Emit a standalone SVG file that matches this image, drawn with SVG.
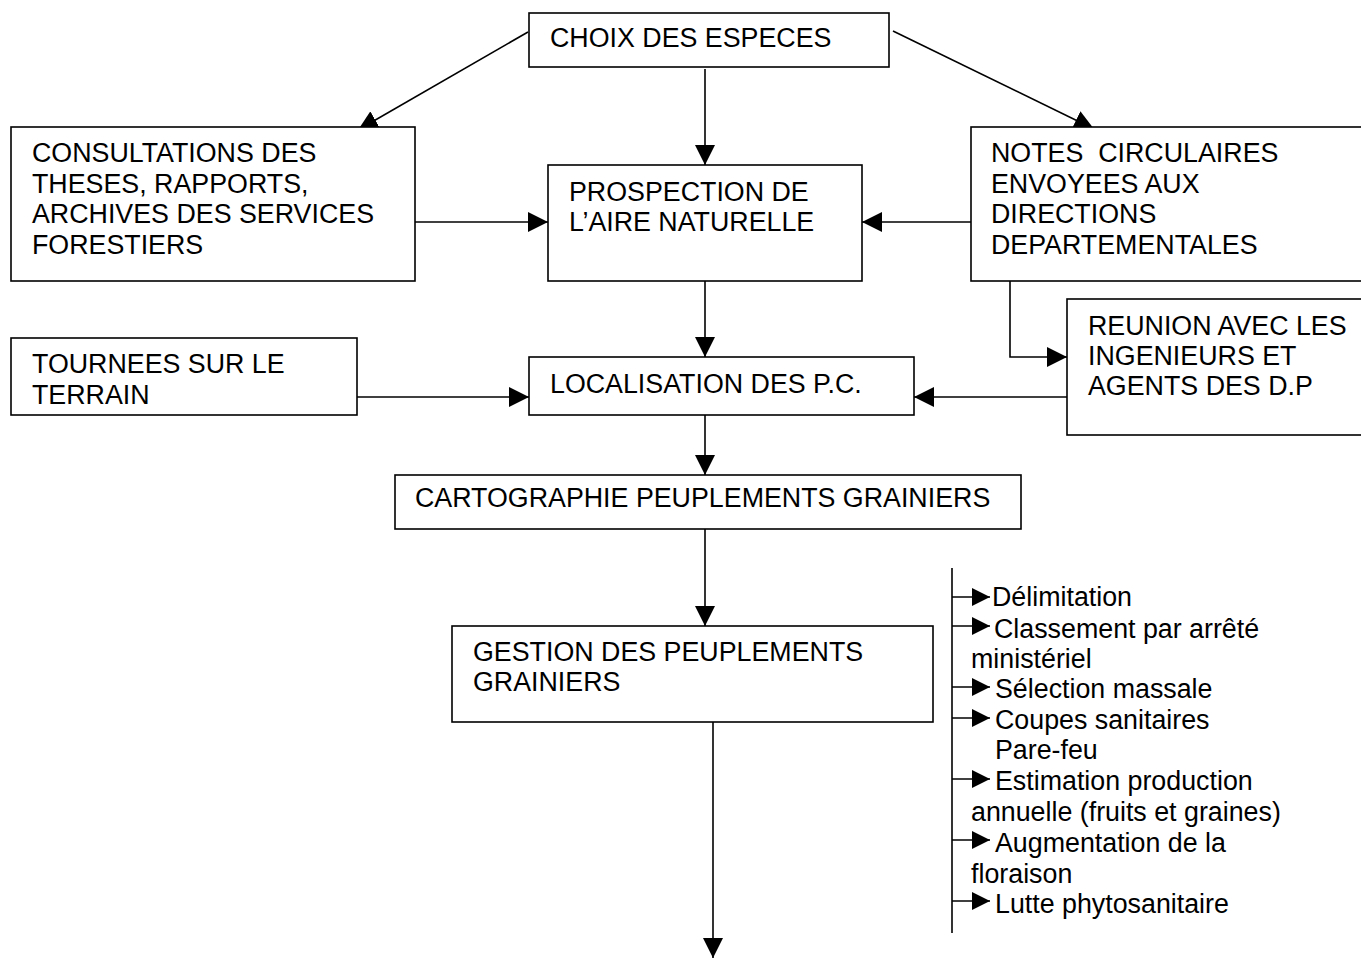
<svg xmlns="http://www.w3.org/2000/svg" width="1361" height="958" viewBox="0 0 1361 958">
<style>
  .box { fill: #ffffff; stroke: #000000; stroke-width: 1.6; }
  .con { fill: none; stroke: #000000; stroke-width: 1.6; }
  .arr { marker-end: url(#ah); }
  .sarr { marker-end: url(#sh); }
  text { font-family: "Liberation Sans", Arial, sans-serif; font-size: 26.8px; fill: #000000; }
</style>
<defs>
  <marker id="ah" markerUnits="userSpaceOnUse" markerWidth="20" markerHeight="20" refX="20" refY="10" orient="auto" viewBox="0 0 20 20">
    <path d="M0,0 L20,10 L0,20 Z" fill="#000000"/>
  </marker>
  <marker id="sh" markerUnits="userSpaceOnUse" markerWidth="18" markerHeight="18" refX="18" refY="9" orient="auto" viewBox="0 0 18 18">
    <path d="M0,0 L18,9 L0,18 Z" fill="#000000"/>
  </marker>
</defs>

<g id="connectors">
  <line class="con arr" x1="528" y1="32" x2="358" y2="130"/>
  <line class="con arr" x1="893" y1="31" x2="1094" y2="129"/>
  <line class="con arr" x1="705" y1="69" x2="705" y2="165"/>
  <line class="con arr" x1="415" y1="222" x2="548" y2="222"/>
  <line class="con arr" x1="971" y1="222" x2="862" y2="222"/>
  <line class="con arr" x1="705" y1="281" x2="705" y2="357"/>
  <polyline class="con arr" points="1010,281 1010,357 1067,357"/>
  <line class="con arr" x1="357" y1="397" x2="529" y2="397"/>
  <line class="con arr" x1="1067" y1="397" x2="914" y2="397"/>
  <line class="con arr" x1="705" y1="415" x2="705" y2="475"/>
  <line class="con arr" x1="705" y1="529" x2="705" y2="626"/>
  <line class="con arr" x1="713" y1="716" x2="713" y2="958"/>
</g>

<g id="choix">
  <rect class="box" x="529" y="13" width="360" height="54"/>
  <text x="550" y="47">CHOIX DES ESPECES</text>
</g>

<g id="consultations">
  <rect class="box" x="11" y="127" width="404" height="154"/>
  <text x="32" y="162">CONSULTATIONS DES</text>
  <text x="32" y="193">THESES, RAPPORTS,</text>
  <text x="32" y="223">ARCHIVES DES SERVICES</text>
  <text x="32" y="254">FORESTIERS</text>
</g>

<g id="prospection">
  <rect class="box" x="548" y="165" width="314" height="116"/>
  <text x="569" y="201">PROSPECTION DE</text>
  <text x="569" y="231">L’AIRE NATURELLE</text>
</g>

<g id="notes">
  <rect class="box" x="971" y="127" width="400" height="154"/>
  <text x="991" y="162" xml:space="preserve">NOTES  CIRCULAIRES</text>
  <text x="991" y="193">ENVOYEES AUX</text>
  <text x="991" y="223">DIRECTIONS</text>
  <text x="991" y="254">DEPARTEMENTALES</text>
</g>

<g id="reunion">
  <rect class="box" x="1067" y="299" width="304" height="136"/>
  <text x="1088" y="335">REUNION AVEC LES</text>
  <text x="1088" y="365">INGENIEURS ET</text>
  <text x="1088" y="395">AGENTS DES D.P</text>
</g>

<g id="tournees">
  <rect class="box" x="11" y="338" width="346" height="77"/>
  <text x="32" y="373">TOURNEES SUR LE</text>
  <text x="32" y="404">TERRAIN</text>
</g>

<g id="localisation">
  <rect class="box" x="529" y="357" width="385" height="58"/>
  <text x="550" y="393">LOCALISATION DES P.C.</text>
</g>

<g id="cartographie">
  <rect class="box" x="395" y="475" width="626" height="54"/>
  <text x="415" y="507">CARTOGRAPHIE PEUPLEMENTS GRAINIERS</text>
</g>

<g id="gestion">
  <rect class="box" x="452" y="626" width="481" height="96"/>
  <text x="473" y="661">GESTION DES PEUPLEMENTS</text>
  <text x="473" y="691">GRAINIERS</text>
</g>

<g id="actions">
  <line class="con" x1="952" y1="568" x2="952" y2="933"/>
  <line class="con sarr" x1="952" y1="597" x2="990" y2="597"/>
  <line class="con sarr" x1="952" y1="626" x2="990" y2="626"/>
  <line class="con sarr" x1="952" y1="687" x2="990" y2="687"/>
  <line class="con sarr" x1="952" y1="718" x2="990" y2="718"/>
  <line class="con sarr" x1="952" y1="779" x2="990" y2="779"/>
  <line class="con sarr" x1="952" y1="840" x2="990" y2="840"/>
  <line class="con sarr" x1="952" y1="901" x2="990" y2="901"/>
  <text x="992" y="606">Délimitation</text>
  <text x="994" y="638">Classement par arrêté</text>
  <text x="971" y="668">ministériel</text>
  <text x="995" y="698">Sélection massale</text>
  <text x="995" y="729">Coupes sanitaires</text>
  <text x="995" y="759">Pare-feu</text>
  <text x="995" y="790">Estimation production</text>
  <text x="971" y="821">annuelle (fruits et graines)</text>
  <text x="995" y="852">Augmentation de la</text>
  <text x="971" y="883">floraison</text>
  <text x="995" y="913">Lutte phytosanitaire</text>
</g>
</svg>
